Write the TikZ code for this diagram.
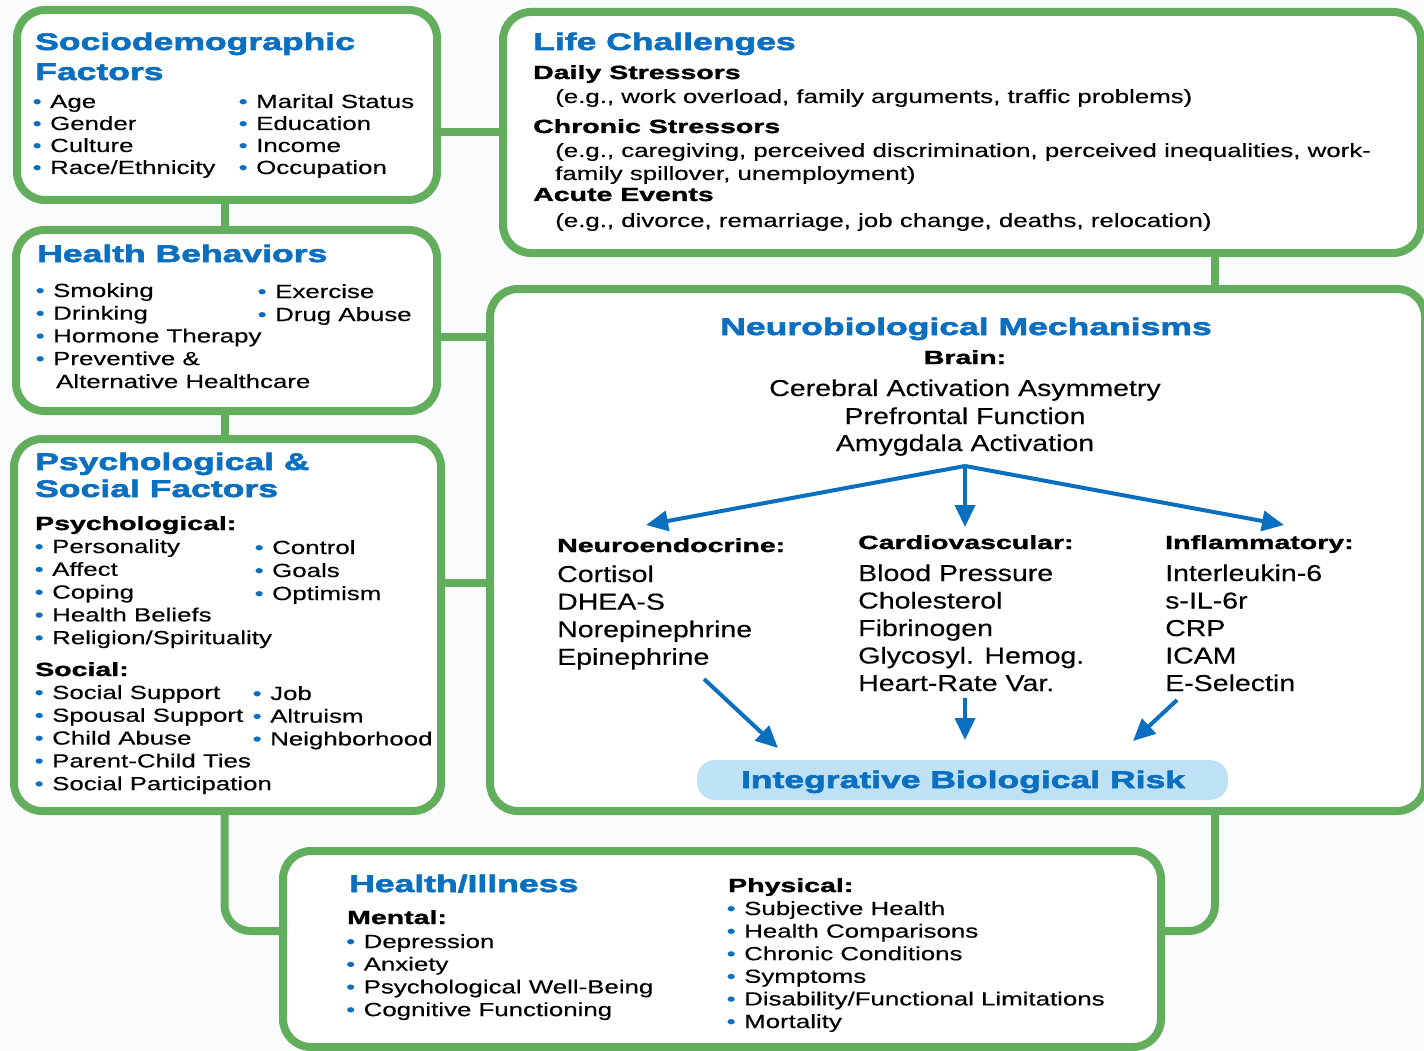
\documentclass[tikz,border=0pt]{standalone}
\usepackage{fontspec}
\setmainfont{Liberation Sans}
\newfontfamily\fBody{Liberation Sans}[FakeStretch=1.36,FakeBold=0.3]
\newfontfamily\fNeu{Liberation Sans}[FakeStretch=1.24,FakeBold=0.3]
\newfontfamily\fTitle{Liberation Sans}[FakeStretch=1.48,FakeBold=2.5]
\newfontfamily\fHead{Liberation Sans}[FakeStretch=1.5,FakeBold=1.6]
\usetikzlibrary{arrows.meta,calc}
\definecolor{lgreen}{HTML}{63AE5C}
\definecolor{bblue}{HTML}{0B6FBF}
\definecolor{pillblue}{HTML}{BEE1F6}
\definecolor{bgc}{HTML}{F9FBFD}
\newcommand\bul{\llap{\textcolor{bblue}{\textbullet}\hspace{8.5pt}}}
\tikzset{
  box/.style={draw=lgreen, line width=8pt, rounded corners=28pt, fill=white, inner sep=0pt},
  conn/.style={draw=lgreen, line width=8pt},
  body/.style={anchor=base west, inner sep=0pt, font=\fBody\fontsize{19}{23}\selectfont},
  neu/.style={anchor=base west, inner sep=0pt, font=\fNeu\fontsize{23}{27}\selectfont},
  ttl/.style={anchor=base west, inner sep=0pt, text=bblue, font=\fTitle\bfseries\fontsize{24}{28}\selectfont},
  hd/.style={anchor=base west, inner sep=0pt, font=\fHead\bfseries\fontsize{19}{23}\selectfont},
  barrow/.style={draw=bblue, line width=4pt, -{Triangle[length=22pt,width=20pt]}}
}
\begin{document}
\begin{tikzpicture}[x=1pt,y=-1pt]
\fill[bgc] (0,0) rectangle (1424,1051);
\useasboundingbox (0,0) rectangle (1424,1051);

% boxes
\node[box, minimum width=420, minimum height=190] (socio) at (227,105) {};
\node[box, minimum width=421, minimum height=181] (hb) at (226.5,320.5) {};
\node[box, minimum width=427, minimum height=372] (psych) at (227.5,625) {};
\node[box, minimum width=918, minimum height=241] (life) at (962,132.5) {};
\node[box, minimum width=935, minimum height=522] (neuro) at (957.5,550) {};
\node[box, minimum width=878, minimum height=196] (hi) at (722,949) {};

% connectors
\draw[conn] (life.west) -- (life.west -| socio.east);
\draw[conn] ([xshift=-2pt]socio.south) -- ([xshift=-2pt]socio.south |- hb.north);
\draw[conn] ([yshift=-16.5pt]hb.east) -- ([yshift=-16.5pt]hb.east -| neuro.west);
\draw[conn] ([xshift=-1.5pt]hb.south) -- ([xshift=-1.5pt]hb.south |- psych.north);
\draw[conn] ([yshift=42pt]psych.east) -- ([yshift=42pt]psych.east -| neuro.west);
\draw[conn] ([xshift=253pt]life.south) -- ([xshift=253pt]life.south |- neuro.north);
\draw[conn, rounded corners=26pt] ([xshift=-3pt]psych.south) |- ([yshift=18pt]hi.west);
\draw[conn, rounded corners=26pt] ([xshift=257.5pt]neuro.south) |- ([yshift=18pt]hi.east);

% Sociodemographic
\node[ttl] (sdT1) at (35,50) {Sociodemographic};
\node[ttl] (sdT2) at (35,80) {Factors};
\foreach \t [count=\i from 0] in {Age,Gender,Culture,Race/Ethnicity}
  \node[body] (sdA\i) at (50,{108+22*\i}) {\bul\t};
\foreach \t [count=\i from 0] in {Marital Status,Education,Income,Occupation}
  \node[body] (sdB\i) at (256,{108+22*\i}) {\bul\t};

% Health Behaviors
\node[ttl] (hbT) at (37,262) {Health Behaviors};
\foreach \t [count=\i from 0] in {Smoking,Drinking,Hormone Therapy,Preventive \&}
  \node[body] (hbA\i) at (53,{297+22.7*\i}) {\bul\t};
\node[body] (hbA4) at (56,388) {Alternative Healthcare};
\node[body] (hbB0) at (275,298) {\bul Exercise};
\node[body] (hbB1) at (275,321) {\bul Drug Abuse};

% Psychological & Social
\node[ttl] (psT1) at (35,470) {Psychological \&};
\node[ttl] (psT2) at (35,497) {Social Factors};
\node[hd] (psH1) at (35,530) {Psychological:};
\foreach \t [count=\i from 0] in {Personality,Affect,Coping,Health Beliefs,Religion/Spirituality}
  \node[body] (psA\i) at (52,{553+22.8*\i}) {\bul\t};
\foreach \t [count=\i from 0] in {Control,Goals,Optimism}
  \node[body] (psB\i) at (272,{554+23*\i}) {\bul\t};
\node[hd] (psH2) at (35,676) {Social:};
\foreach \t [count=\i from 0] in {Social Support,Spousal Support,Child Abuse,Parent-Child Ties,Social Participation}
  \node[body] (psC\i) at (52,{699+22.8*\i}) {\bul\t};
\foreach \t [count=\i from 0] in {Job,Altruism,Neighborhood}
  \node[body] (psD\i) at (270,{700+22.7*\i}) {\bul\t};

% Life Challenges
\node[ttl] (lcT) at (533,50) {Life Challenges};
\node[hd] (lcH1) at (533,79) {Daily Stressors};
\node[body] (lcE1) at (555,103) {(e.g., work overload, family arguments, traffic problems)};
\node[hd] (lcH2) at (533,133) {Chronic Stressors};
\node[body] (lcE2) at (555,157) {(e.g., caregiving, perceived discrimination, perceived inequalities, work-};
\node[body] (lcE3) at (555,180) {family spillover, unemployment)};
\node[hd] (lcH3) at (533,201) {Acute Events};
\node[body] (lcE4) at (555,227) {(e.g., divorce, remarriage, job change, deaths, relocation)};

% Neurobiological Mechanisms
\node[ttl, anchor=base] (nbT) at (966,335) {Neurobiological Mechanisms};
\node[hd, anchor=base] (brain) at (965,364) {Brain:};
\node[neu, anchor=base] (br1) at (965,396) {Cerebral Activation Asymmetry};
\node[neu, anchor=base] (br2) at (965,424) {Prefrontal Function};
\node[neu, anchor=base] (br3) at (965,451) {Amygdala Activation};
\node[hd] (hN) at (557,552) {Neuroendocrine:};
\node[hd] (hC) at (858,549) {Cardiovascular:};
\node[hd] (hI) at (1165,549) {Inflammatory:};
\foreach \t [count=\i from 0] in {Cortisol,DHEA-S,Norepinephrine,Epinephrine}
  \node[neu] (nN\i) at (557,{582+27.6*\i}) {\t};
\foreach \t [count=\i from 0] in {Blood Pressure,Cholesterol,Fibrinogen,Glycosyl. Hemog.,Heart-Rate Var.}
  \node[neu] (nC\i) at (858,{581+27.5*\i}) {\t};
\foreach \t [count=\i from 0] in {Interleukin-6,s-IL-6r,CRP,ICAM,E-Selectin}
  \node[neu] (nI\i) at (1165,{581+27.5*\i}) {\t};

\coordinate (fork) at (965,466);
\coordinate (tN) at (646,525);
\coordinate (tC) at (965,527);
\coordinate (tI) at (1284,525);
\draw[barrow] (fork) -- (tN);
\draw[barrow] (fork) -- (tC);
\draw[barrow] (fork) -- (tI);

\node[fill=pillblue, rounded corners=18pt, minimum width=531, minimum height=40, inner sep=0pt] (pill) at (962.5,780) {};
\node[ttl, anchor=base] (ibr) at (963,788) {Integrative Biological Risk};

\coordinate (bN1) at (704,679);
\coordinate (bN2) at (778,748);
\coordinate (bC1) at (965,698);
\coordinate (bC2) at (965,740);
\coordinate (bI1) at (1177,700);
\coordinate (bI2) at (1133,741);
\draw[barrow] (bN1) -- (bN2);
\draw[barrow] (bC1) -- (bC2);
\draw[barrow] (bI1) -- (bI2);

% Health/Illness
\node[ttl] (hiT) at (349,892) {Health/Illness};
\node[hd] (hiM) at (347,924) {Mental:};
\foreach \t [count=\i from 0] in {Depression,Anxiety,Psychological Well-Being,Cognitive Functioning}
  \node[body] (hiA\i) at (363.5,{948+22.7*\i}) {\bul\t};
\node[hd] (hiP) at (728,892) {Physical:};
\foreach \t [count=\i from 0] in {Subjective Health,Health Comparisons,Chronic Conditions,Symptoms,Disability/Functional Limitations,Mortality}
  \node[body] (hiB\i) at (744,{915+22.6*\i}) {\bul\t};
\end{tikzpicture}
\end{document}
